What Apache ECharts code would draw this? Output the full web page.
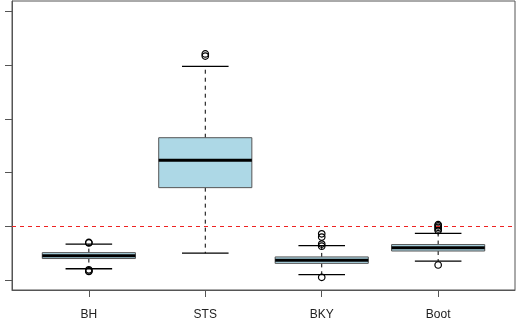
<!DOCTYPE html>
<html>
<head>
<meta charset="utf-8">
<script src="https://cdn.jsdelivr.net/npm/echarts@6/dist/echarts.min.js"></script>
<style>
  html, body { margin: 0; padding: 0; background: #fff; }
  #chart { width: 517px; height: 330px; }
</style>
</head>
<body>
<div id="chart"></div>
<script>
// box statistics
const categories = ['BH', 'STS', 'BKY', 'Boot']
const lowWhisker = [0.0421, 0.0450, 0.0410, 0.0435]
const lowerQuartile = [0.0440, 0.0572, 0.0431, 0.0454]
const medians = [0.0445, 0.0623, 0.0437, 0.0460]
const upperQuartile = [0.0451, 0.0665, 0.0443, 0.0466]
const highWhisker = [0.0467, 0.0798, 0.0464, 0.0487]
const outliers = [
  [0.0470, 0.0469, 0.0419, 0.0416, 0.0417],
  [0.0821, 0.0817],
  [0.0463, 0.0467, 0.0480, 0.0486, 0.0405],
  [0.0492, 0.0495, 0.0498, 0.0501, 0.0503, 0.0428]
]
const yTicks = [0.04, 0.05, 0.06, 0.07, 0.08, 0.09]
const refLevel = 0.05

let chart = echarts.init(document.getElementById('chart'))

// [x, lo, q1, med, q3, hi]
let boxData = categories.map(function (c, i) {
  return [i + 1, lowWhisker[i], lowerQuartile[i], medians[i], upperQuartile[i], highWhisker[i]]
})
let outlierData = []
outliers.forEach(function (list, i) {
  list.forEach(function (v) { outlierData.push([i + 1, v]) })
})

function renderBox (params, api) {
  let x = api.value(0)
  let lo = api.coord([x, api.value(1)])
  let q1 = api.coord([x, api.value(2)])
  let med = api.coord([x, api.value(3)])
  let q3 = api.coord([x, api.value(4)])
  let hi = api.coord([x, api.value(5)])
  let left = api.coord([x - 0.4, 0])[0]
  let right = api.coord([x + 0.4, 0])[0]
  let capL = api.coord([x - 0.2, 0])[0]
  let capR = api.coord([x + 0.2, 0])[0]
  let cx = lo[0]
  let dashed = { stroke: '#000', lineWidth: 1, lineDash: [4, 4] }
  let solid = { stroke: '#000', lineWidth: 1.3 }
  return {
    type: 'group',
    children: [
      { type: 'line', shape: { x1: cx, y1: q3[1], x2: cx, y2: hi[1] }, style: dashed },
      { type: 'line', shape: { x1: cx, y1: q1[1], x2: cx, y2: lo[1] }, style: dashed },
      { type: 'line', shape: { x1: capL, y1: hi[1], x2: capR, y2: hi[1] }, style: solid },
      { type: 'line', shape: { x1: capL, y1: lo[1], x2: capR, y2: lo[1] }, style: solid },
      {
        type: 'rect',
        shape: { x: left, y: q3[1], width: right - left, height: q1[1] - q3[1] },
        style: { fill: '#ADD8E6', stroke: '#555', lineWidth: 1 }
      },
      { type: 'line', shape: { x1: left, y1: med[1], x2: right, y2: med[1] }, style: { stroke: '#000', lineWidth: 3 } }
    ]
  }
}

chart.setOption({
  animation: false,
  grid: {
    left: 12,
    right: 2,
    top: 1,
    bottom: 40,
    show: true,
    borderColor: '#555',
    borderWidth: 1
  },
  xAxis: {
    type: 'value',
    min: 0.34,
    max: 4.66,
    splitLine: { show: false },
    axisLine: { show: true, lineStyle: { color: '#555' } },
    axisTick: { show: true, length: 7, customValues: [1, 2, 3, 4], lineStyle: { color: '#555' } },
    axisLabel: {
      customValues: [1, 2, 3, 4],
      formatter: function (v) { return categories[Math.round(v) - 1] },
      margin: 19,
      fontSize: 12,
      color: '#222',
      fontFamily: 'Liberation Sans, Arial, sans-serif'
    }
  },
  yAxis: {
    type: 'value',
    min: 0.03814,
    max: 0.09196,
    splitLine: { show: false },
    axisLine: { show: true, lineStyle: { color: '#555' } },
    axisTick: { show: true, length: 7, customValues: yTicks, lineStyle: { color: '#555' } },
    axisLabel: { show: false }
  },
  series: [
    {
      type: 'custom',
      renderItem: renderBox,
      data: boxData,
      encode: { x: 0, y: [1, 2, 3, 4, 5] },
      z: 2
    },
    {
      type: 'scatter',
      data: outlierData,
      symbol: 'circle',
      symbolSize: 6.5,
      itemStyle: { color: 'rgba(0,0,0,0)', borderColor: '#000', borderWidth: 1.2, opacity: 1 },
      z: 3,
      markLine: {
        silent: true,
        symbol: 'none',
        label: { show: false },
        lineStyle: { color: '#e22', type: [4, 4], width: 1.2 },
        data: [{ yAxis: refLevel }],
        z: 4
      }
    }
  ]
})
</script>
</body>
</html>
